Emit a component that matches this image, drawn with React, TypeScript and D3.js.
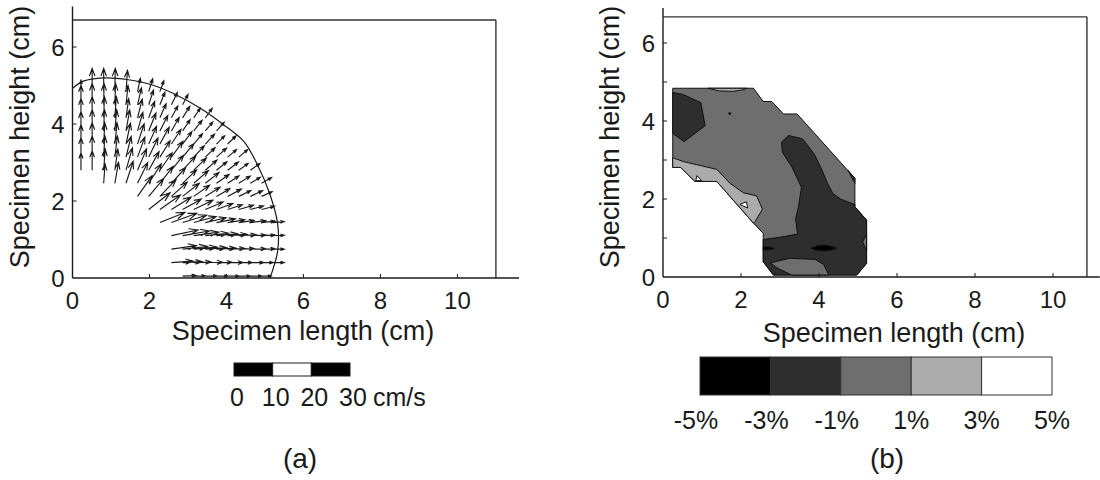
import React from "react";
import * as d3 from "d3";

const FONT = "'Liberation Sans', Arial, Helvetica, sans-serif";
const INK = "#1a1a1a";

// ---------- (a) velocity field ----------
// measurement grid (cm)
const gridX = [0.22, 0.51, 0.81, 1.1, 1.39, 1.69, 1.98, 2.27, 2.57, 2.86, 3.15, 3.45, 3.74, 4.03, 4.32, 4.62, 4.91, 5.2];
const gridY = [0.05, 0.4, 0.75, 1.1, 1.44, 1.78, 2.12, 2.46, 2.8, 3.14, 3.48, 3.82, 4.16, 4.5, 4.84];

// first grid column used in each row (bottom row first)
const rowStart = [9, 8, 8, 8, 7, 6, 5, 2, 0, 0, 0, 0, 0, 0, 0];

// flow direction per vector, degrees from +x
const rowAngles: number[][] = [
  [2, 1, 1, 0, 0, 0, 0, 0],
  [4, 3, 2, 1, 1, 0, 0, 0, 0, 0],
  [8, 6, 5, 4, 3, 2, 2, 1, 1, 0],
  [12, 10, 8, 6, 5, 4, 3, 2, 2, 2],
  [22, 20, 17, 15, 13, 11, 9, 8, 7, 6, 5],
  [38, 35, 32, 29, 26, 23, 20, 18, 16, 15, 14],
  [55, 50, 46, 42, 38, 35, 32, 30, 28, 26, 25, 24],
  [86, 80, 72, 64, 57, 52, 48, 44, 41, 38, 35, 33, 32, 31, 30],
  [90, 90, 86, 82, 74, 67, 61, 55, 51, 47, 44, 41, 39, 37, 36, 35],
  [90, 90, 87, 83, 76, 70, 64, 58, 54, 50, 47, 44, 42, 40, 40],
  [90, 90, 87, 84, 78, 72, 66, 61, 57, 53, 50, 47, 45, 44],
  [90, 90, 88, 85, 80, 74, 68, 63, 60, 56, 52, 50, 48],
  [90, 90, 88, 86, 82, 76, 70, 66, 62, 58, 56, 54],
  [90, 90, 89, 88, 84, 77, 72, 68, 64, 62],
  [90, 90, 90, 89, 86, 78, 73, 70],
];

// flow speed per vector (cm/s)
const rowSpeeds: number[][] = [
  [3.5, 3, 3, 3, 3, 3, 3, 2.5],
  [5.5, 5, 4.5, 4.5, 4, 4, 3.5, 3.5, 3, 3],
  [6.5, 6.5, 6, 5.5, 5, 4.5, 4, 4, 3.5, 3],
  [7, 7, 6.5, 6, 5.5, 5, 4.5, 4, 3.5, 3],
  [7, 7, 6.5, 6, 5.5, 5, 4.5, 4, 4, 3.5, 3],
  [7, 6.5, 6, 5.5, 5.5, 5, 4.5, 4, 4, 3.5, 3.5],
  [6.5, 6, 6, 5.5, 5.5, 5, 4.5, 4, 4, 3.5, 3.5, 3],
  [5, 5.5, 6, 6, 6, 5.5, 5.5, 5, 5, 4.5, 4, 3.5, 3.5, 3, 3],
  [4.5, 5, 5.5, 5.5, 6, 6, 5.5, 5.5, 5, 5, 4.5, 4, 3.5, 3.5, 3, 3],
  [5, 5.5, 5.5, 5.5, 5.5, 5.5, 5.5, 5, 5, 4.5, 4, 3.5, 3.5, 3, 3],
  [5, 5.5, 5.5, 5.5, 5.5, 5.5, 5, 5, 4.5, 4, 3.5, 3.5, 3, 3],
  [5, 5.5, 5.5, 5.5, 5.5, 5, 5, 4.5, 4, 3.5, 3.5, 3, 3],
  [5, 5.5, 5.5, 5.5, 5, 5, 4.5, 4, 3.5, 3.5, 3, 3],
  [5, 5.5, 5.5, 5.5, 5, 4.5, 4, 3.5, 3.5, 3],
  [3, 6, 6, 6, 5.5, 3.5, 3.5, 3],
];

// specimen outline (cm)
const rimX = [0, 0.3, 0.88, 1.45, 2.05, 2.65, 3.3, 3.9, 4.45, 4.8, 5.12, 5.33, 5.33, 5.13];
const rimY = [4.93, 5.12, 5.2, 5.15, 5.02, 4.78, 4.42, 4.0, 3.55, 2.95, 2.2, 1.4, 0.7, 0];

// speed scale bar
const speedTicks = [0, 10, 20, 30];
const speedBarFills = ["#000000", "#ffffff", "#000000"];

// ---------- (b) strain field ----------
const strainLevels = [-5, -3, -1, 1, 3, 5];
const strainColors = ["#000000", "#2e2e2e", "#6e6e6e", "#ababab", "#ffffff"];
const strainLabels = ["-5%", "-3%", "-1%", "1%", "3%", "5%"];

type Pt = [number, number];
const outerRegion: Pt[] = [[0.25, 4.84], [2.32, 4.84], [2.57, 4.5], [2.79, 4.5], [3.09, 4.18], [3.44, 4.18], [4.92, 2.53], [4.92, 1.8], [5.22, 1.46], [5.22, 0.35], [4.97, 0.05], [2.83, 0.05], [2.57, 0.39], [2.57, 1.12], [2.32, 1.38], [1.38, 2.45], [0.82, 2.45], [0.45, 2.81], [0.25, 2.81]];
const lightEdgeBand: Pt[] = [[0.25, 3.06], [0.52, 2.96], [1.38, 2.76], [1.72, 2.4], [2.06, 2.16], [2.4, 2.08], [2.55, 1.74], [2.36, 1.42], [2.32, 1.38], [1.38, 2.45], [0.82, 2.45], [0.45, 2.81], [0.25, 2.81]];
const lightTopLens: Pt[] = [[1.15, 4.84], [1.45, 4.77], [1.8, 4.76], [2.05, 4.8], [2.15, 4.84]];
const darkUpperLeft: Pt[] = [[0.25, 4.73], [0.52, 4.68], [0.97, 4.47], [1.08, 3.88], [0.54, 3.47], [0.25, 3.68]];
const darkMain: Pt[] = [[3.04, 3.46], [3.22, 3.63], [3.58, 3.54], [3.88, 3.15], [4.05, 2.8], [4.22, 2.4], [4.35, 2.15], [4.55, 2.0], [4.8, 1.9], [4.92, 1.86], [4.92, 1.8], [5.22, 1.46], [5.22, 0.35], [4.97, 0.05], [2.83, 0.05], [2.57, 0.39], [2.57, 0.96], [3.0, 1.02], [3.45, 1.1], [3.4, 1.5], [3.47, 1.78], [3.55, 2.3], [3.3, 2.83], [3.06, 3.2]];
const midBottomLens: Pt[] = [[2.75, 0.36], [3.25, 0.48], [3.9, 0.45], [4.12, 0.32], [4.25, 0.05], [3.3, 0.05], [2.95, 0.22]];
const midRightSliver: Pt[] = [[5.22, 1.1], [5.12, 0.9], [5.22, 0.68]];
const darkRightNotch: Pt[] = [[4.74, 2.74], [4.92, 2.53], [4.92, 2.4], [4.84, 2.55]];
const blackLeftSpot: Pt[] = [[2.57, 0.69], [2.72, 0.7], [2.86, 0.73], [2.72, 0.77], [2.57, 0.77]];
const blackRightSpot: Pt[] = [[3.8, 0.74], [3.95, 0.8], [4.15, 0.82], [4.38, 0.77], [4.45, 0.74], [4.32, 0.69], [4.1, 0.67], [3.92, 0.69]];
const whiteSpotLow: Pt[] = [[1.97, 1.86], [2.17, 1.77], [2.14, 1.93]];
const whiteSpotEdge: Pt[] = [[0.84, 2.47], [0.99, 2.47], [0.87, 2.6]];
const darkSpeck: Pt[] = [[1.67, 4.2], [1.74, 4.21], [1.72, 4.16]];

// band index into strainColors for each region, drawn in this order
const strainRegions: { band: number; pts: Pt[] }[] = [
  { band: 2, pts: outerRegion },
  { band: 3, pts: lightEdgeBand },
  { band: 3, pts: lightTopLens },
  { band: 1, pts: darkUpperLeft },
  { band: 1, pts: darkMain },
  { band: 2, pts: midBottomLens },
  { band: 2, pts: midRightSliver },
  { band: 1, pts: darkRightNotch },
  { band: 0, pts: blackLeftSpot },
  { band: 0, pts: blackRightSpot },
  { band: 4, pts: whiteSpotLow },
  { band: 4, pts: whiteSpotEdge },
  { band: 1, pts: darkSpeck },
];

const xTicks = [0, 2, 4, 6, 8, 10];
const yTickLabels = [0, 2, 4, 6];

function Axes({ x, y, xMax, yMax, boxX, boxY, yMinor, tickBase, yLabelX, yLabelY, xLabelX, xLabelBase }: any) {
  const x0 = x(0), y0 = y(0);
  return (
    <g fontFamily={FONT} fill={INK}>
      {/* axis lines and frame */}
      <line x1={x0} y1={y0} x2={x(xMax)} y2={y0} stroke={INK} strokeWidth={1.4} />
      <line x1={x0} y1={y0} x2={x0} y2={y(yMax)} stroke={INK} strokeWidth={1.4} />
      <line x1={x0} y1={y(boxY)} x2={x(boxX)} y2={y(boxY)} stroke="#333" strokeWidth={1.4} />
      <line x1={x(boxX)} y1={y(boxY)} x2={x(boxX)} y2={y0} stroke="#333" strokeWidth={1.4} />
      {xTicks.filter((t) => t > 0).map((t) => (
        <line key={"xt" + t} x1={x(t)} x2={x(t)} y1={y0} y2={y0 - 4} stroke={INK} strokeWidth={1} />
      ))}
      {yMinor.map((t: number) => (
        <line key={"yt" + t} x1={x0} x2={x0 + 4} y1={y(t)} y2={y(t)} stroke={INK} strokeWidth={1} />
      ))}
      {xTicks.map((t) => (
        <text key={"xl" + t} x={x(t)} y={tickBase} fontSize={24} textAnchor="middle">{t}</text>
      ))}
      {yTickLabels.map((t) => (
        <text key={"yl" + t} x={x0 - 8} y={y(t)} dy="0.36em" fontSize={24} textAnchor="end">{t}</text>
      ))}
      <text x={xLabelX} y={xLabelBase} fontSize={27} textAnchor="middle">Specimen length (cm)</text>
      <text transform={`translate(${yLabelX},${yLabelY}) rotate(-90)`} fontSize={27} textAnchor="middle">Specimen height (cm)</text>
    </g>
  );
}

export default function App() {
  // panel (a)
  const xA = d3.scaleLinear().domain([0, 11.6]).range([72.5, 519]);
  const yA = d3.scaleLinear().domain([0, 7.05]).range([278, 6.6]);
  const speed = d3.scaleLinear().domain([0, 30]).range([234, 350]);
  const speedPx = (s: number) => speed(s) - speed(0);

  const arrows: string[] = [];
  gridY.forEach((gy, r) => {
    rowAngles[r].forEach((deg, k) => {
      const gx = gridX[rowStart[r] + k];
      const len = speedPx(rowSpeeds[r][k]);
      const a = (deg * Math.PI) / 180;
      const dx = Math.cos(a), dy = -Math.sin(a);
      const x1 = xA(gx), y1 = yA(gy);
      const x2 = x1 + dx * len, y2 = y1 + dy * len;
      const h = 0.33 * len, w = 0.12 * len;
      const bx = x2 - dx * h, by = y2 - dy * h;
      arrows.push(
        `M${x1},${y1}L${x2},${y2}M${bx - dy * w},${by + dx * w}L${x2},${y2}L${bx + dy * w},${by - dx * w}`
      );
    });
  });

  const rimLine = d3
    .line<number>()
    .x((_, i) => xA(rimX[i]))
    .y((_, i) => yA(rimY[i]))
    .curve(d3.curveCatmullRom.alpha(0.5));

  // panel (b)
  const xB = d3.scaleLinear().domain([0, 11.2]).range([663, 1099.8]);
  const yB = d3.scaleLinear().domain([0, 6.9]).range([277, 7.9]);
  const strainX = d3.scaleLinear().domain([-5, 5]).range([700, 1052]);
  const poly = d3.line<Pt>().x((p) => xB(p[0])).y((p) => yB(p[1]));

  return (
    <svg width={1100} height={480} style={{ position: "absolute", left: 0, top: 0, background: "#fff" }}>
      <rect width={1100} height={480} fill="#fff" />

      {/* ---- (a) ---- */}
      <path d={rimLine(rimX) || ""} fill="none" stroke={INK} strokeWidth={1.2} />
      <path d={arrows.join("")} fill="none" stroke={INK} strokeWidth={1.15} strokeLinejoin="miter" />
      <Axes x={xA} y={yA} xMax={11.6} yMax={7.05} boxX={11.0} boxY={6.7} yMinor={[2, 4, 6]}
        tickBase={309} yLabelX={29} yLabelY={137} xLabelX={303} xLabelBase={340} />
      {speedBarFills.map((f, i) => (
        <rect key={"sb" + i} x={speed(speedTicks[i])} y={363} width={speed(speedTicks[i + 1]) - speed(speedTicks[i])}
          height={13} fill={f} stroke={INK} strokeWidth={1} />
      ))}
      <g fontFamily={FONT} fill={INK} fontSize={25}>
        {speedTicks.map((t) => (
          <text key={"st" + t} x={speed(t) + 3} y={406} textAnchor="middle">{t}</text>
        ))}
        <text x={373} y={406}>cm/s</text>
        <text x={300} y={468} fontSize={28} textAnchor="middle">(a)</text>
      </g>

      {/* ---- (b) ---- */}
      {strainRegions.map((r, i) => (
        <path key={"sr" + i} d={(poly(r.pts) || "") + "Z"} fill={strainColors[r.band]} stroke="#111" strokeWidth={1} strokeLinejoin="round" />
      ))}
      <Axes x={xB} y={yB} xMax={11.2} yMax={6.9} boxX={10.87} boxY={6.67} yMinor={[1, 2, 3, 4, 5, 6]}
        tickBase={308} yLabelX={619} yLabelY={137} xLabelX={894} xLabelBase={342} />
      {strainColors.map((c, i) => (
        <rect key={"cb" + i} x={strainX(strainLevels[i])} y={357} width={strainX(strainLevels[i + 1]) - strainX(strainLevels[i])}
          height={38} fill={c} stroke="#333" strokeWidth={1} />
      ))}
      <g fontFamily={FONT} fill={INK} fontSize={25}>
        {strainLevels.map((v, i) => (
          <text key={"sl" + i} x={strainX(v) - (v < 0 ? 4 : 0)} y={429} textAnchor="middle">{strainLabels[i]}</text>
        ))}
        <text x={887} y={468} fontSize={28} textAnchor="middle">(b)</text>
      </g>
    </svg>
  );
}
